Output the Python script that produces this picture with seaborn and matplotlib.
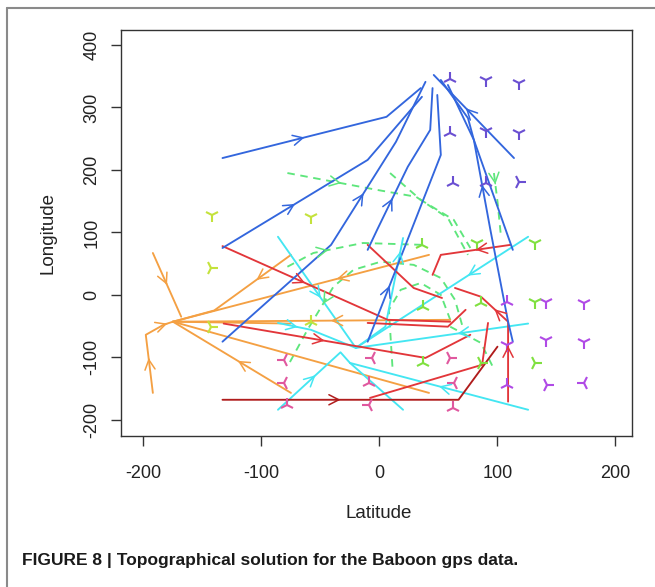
import numpy as np
import matplotlib
matplotlib.use("Agg")
import matplotlib.pyplot as plt
from matplotlib.lines import Line2D
from matplotlib import font_manager
import seaborn as sns

# ---------------- data ----------------
x_ticks = [-200, -100, 0, 100, 200]
y_ticks = [-200, -100, 0, 100, 200, 300, 400]

blue_paths = [
    [(-133, 219), (6, 285), (35, 331)],
    [(-133, 75), (-10, 216), (36, 317)],
    [(-133, -75), (-41, 80), (14, 245), (39, 341)],
    [(-10, 72), (-2, 104), (24, 205), (43, 264), (45, 331)],
    [(-10, -75), (52, 224), (49, 320)],
    [(114, 219), (46, 352)],
    [(113, -75), (109, -43), (94, 104), (80, 248), (75, 283), (52, 344)],
    [(113, 72), (107, 104), (80, 248), (58, 336)],
]
blue_arrows = [[(0, 0.5)], [(0, 0.5)], [(1, 0.5)], [(1, 0.5)], [(0, 0.3)], [(0, 0.6)], [(2, 0.5)], []]

red_paths = [
    [(-133, 78), (7, -40), (60, -43)],
    [(-10, 80), (29, 11), (53, -5)],
    [(111, 80), (52, 64), (45, 32)],
    [(109, -171), (109, -43), (86, -3), (64, 11)],
    [(-132, -46), (39, -101), (77, -64)],
    [(-10, -45), (58, -51), (73, -24)],
    [(-8, -165), (87, -112), (92, -45)],
]
red_arrows = [[(0, 0.5)], [], [(0, 0.5)], [(0, 0.7), (1, 0.5)], [(0, 0.5)], [], []]

darkred_paths = [
    [(-133, -168), (67, -168), (100, -83)],
]
darkred_arrows = [[(0, 0.5)]]

orange_paths = [
    [(-192, 67), (-168, -35)],
    [(-192, -157), (-198, -64), (-183, -48), (-175, -43)],
    [(-75, 64), (-140, -25), (-175, -43)],
    [(42, 64), (-175, -43)],
    [(60, -40), (-175, -43)],
    [(-175, -43), (-75, -46)],
    [(-175, -43), (42, -157)],
    [(-75, -157), (-175, -43)],
]
orange_arrows = [[(0, 0.5)], [(0, 0.6), (2, 0.4)], [(0, 0.45)], [(0, 0.36)], [(0, 0.43)], [], [], [(0, 0.45)]]

cyan_paths = [
    [(-86, 93), (-20, -85)],
    [(-86, -45), (-58, -56), (-20, -85)],
    [(-20, -85), (5, -51), (20, 91)],
    [(126, -46), (-20, -85)],
    [(126, 93), (-20, -85)],
    [(-86, -184), (-33, -92), (-25, -109)],
    [(126, -184), (-25, -109)],
    [(-25, -109), (20, -184)],
]
cyan_arrows = [[(0, 0.55)], [(0, 0.6)], [(1, 0.85)], [(0, 0.41)], [(0, 0.35)], [(0, 0.6)], [(0, 0.5)], []]

green_paths = [
    [(-78, 195), (-2, 168), (31, 157), (58, 123), (75, 64)],
    [(9, 195), (35, 152), (63, 120), (77, 75)],
    [(97, 195), (100, 150), (103, 93)],
    [(-78, 45), (-56, 67), (-14, 83), (37, 80)],
    [(70, -48), (64, -8), (52, 27), (29, 48), (1, 53), (-22, 40), (-39, 13), (-61, -56), (-78, -115)],
    [(11, -115), (8, -24), (18, 8), (35, 19), (52, 0), (60, -40)],
    [(60, -51), (86, -77), (96, -115)],
]
green_arrows = [[(0, 0.6)], [], [(0, 0.4)], [(1, 0.3)], [(6, 0.4)], [], []]

purple_x = [60, 90, 118, 60, 90, 118, 62, 90, 118]
purple_y = [345, 344, 339, 259, 262, 259, 179, 179, 181]
purple_m = ['2', '1', '1', '2', '1', '1', '2', '2', '4']

violet_x = [108, 141, 173, 108, 141, 173, 108, 142, 173]
violet_y = [-11, -11, -13, -80, -72, -75, -144, -144, -141]
violet_m = ['2', '1', '1', '1', '1', '1', '2', '4', '3']

pink_x = [-81, -81, -78, -6, -9, -9, 60, 63, 62]
pink_y = [-104, -141, -176, -101, -141, -176, -101, -141, -181]
pink_m = ['3', '3', '2', '3', '2', '3', '4', '3', '2']

lime_x = [36, 83, 132, 37, 86, 132, 37, 86, 132]
lime_y = [80, 83, 83, -19, -13, -11, -109, -109, -109]
lime_m = ['2', '1', '1', '2', '2', '1', '2', '4', '4']

yellow_x = [-142, -58, -143, -143, -58]
yellow_y = [128, 125, 43, -51, -43]
yellow_m = ['1', '1', '4', '4', '2']

# ---------------- style ----------------
sns.set_style("white")
plt.rcParams['font.family'] = ['Liberation Sans', 'DejaVu Sans']

fig = plt.figure(figsize=(6.55, 5.87), dpi=100)
ax = fig.add_axes([121/655, 1-436/587, 511/655, 406/587])

C_BLUE = '#3366dd'
C_RED = '#e2363a'
C_DRED = '#b01c1c'
C_ORANGE = '#f4a043'
C_CYAN = '#44e6f2'
C_GREEN = '#5ee67c'


def draw_arrow(p0, p1, t, color):
    p0 = np.asarray(p0, float)
    p1 = np.asarray(p1, float)
    pt = p0 + t*(p1-p0)
    back = pt - 0.02*(p1-p0)
    ax.annotate("", xy=pt, xytext=back,
                arrowprops=dict(arrowstyle="->,head_length=0.55,head_width=0.28",
                                color=color, lw=1.1, shrinkA=0, shrinkB=0,
                                mutation_scale=13))


def draw_group(paths, arrows, color, dashed=False):
    for path, arr in zip(paths, arrows):
        xs = [p[0] for p in path]
        ys = [p[1] for p in path]
        sns.lineplot(x=xs, y=ys, sort=False, estimator=None, color=color,
                     lw=1.35, ax=ax,
                     linestyle=(0, (4, 3)) if dashed else '-')
        for seg, t in arr:
            draw_arrow(path[seg], path[seg+1], t, color)


draw_group(green_paths, green_arrows, C_GREEN, dashed=True)
draw_group(orange_paths, orange_arrows, C_ORANGE)
draw_group(cyan_paths, cyan_arrows, C_CYAN)
draw_group(red_paths, red_arrows, C_RED)
draw_group(darkred_paths, darkred_arrows, C_DRED)
draw_group(blue_paths, blue_arrows, C_BLUE)


def draw_markers(xs, ys, ms, color):
    for x, y, m in zip(xs, ys, ms):
        ax.plot([x], [y], marker=m, color=color, markersize=10, mew=1.5, ls='none')


draw_markers(purple_x, purple_y, purple_m, '#6a4fd2')
draw_markers(violet_x, violet_y, violet_m, '#b04ae6')
draw_markers(pink_x, pink_y, pink_m, '#e0589f')
draw_markers(lime_x, lime_y, lime_m, '#80e040')
draw_markers(yellow_x, yellow_y, yellow_m, '#c4e23c')

ax.set_xlim(-219, 214)
ax.set_ylim(-226, 424)
ax.set_xticks(x_ticks)
ax.set_yticks(y_ticks)
ax.set_xticklabels([str(v) for v in x_ticks])
ax.set_yticklabels([str(v) for v in y_ticks], rotation=90, va='center')
ax.tick_params(axis='both', direction='out', length=7, width=1, color='#333333',
               labelsize=13, labelcolor='#222222', bottom=True, left=True)
ax.tick_params(axis='x', pad=14)
ax.tick_params(axis='y', pad=8)
for s in ax.spines.values():
    s.set_color('#333333')
    s.set_linewidth(1.0)
ax.set_xlabel('')
ax.set_ylabel('')

fig.text(379/655, 1-513/587, 'Latitude', ha='center', va='center', fontsize=13.5, color='#222222')
fig.text(48/655, 1-233/587, 'Longitude', ha='center', va='center', fontsize=13.5,
         rotation=90, color='#222222')

names = {f.name for f in font_manager.fontManager.ttflist}
cap_family = 'Liberation Sans Narrow' if 'Liberation Sans Narrow' in names else 'Liberation Sans'
cap_size = 14 if cap_family == 'Liberation Sans Narrow' else 12.5
fig.text(22/655, 1-560/587, 'FIGURE 8 | Topographical solution for the Baboon gps data.',
         ha='left', va='center', fontsize=cap_size, fontweight='bold',
         family=[cap_family, 'DejaVu Sans'], color='#1a1a1a')

fig.add_artist(Line2D([7/655, 7/655], [0, 1-8/587], transform=fig.transFigure,
                      color='#8a8a8a', lw=1.5))
fig.add_artist(Line2D([7/655, 1], [1-8/587, 1-8/587], transform=fig.transFigure,
                      color='#8a8a8a', lw=1.5))

fig.savefig('out.png', dpi=100)
